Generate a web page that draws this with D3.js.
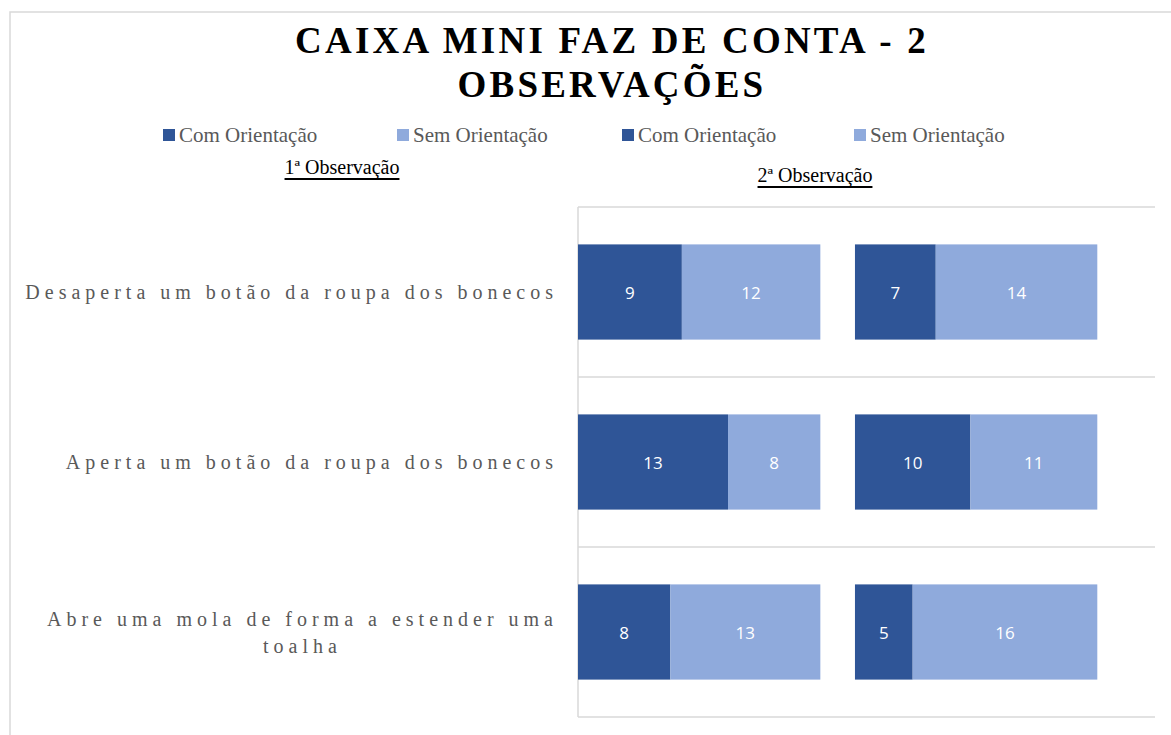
<!DOCTYPE html>
<html>
<head>
<meta charset="utf-8">
<script src="https://cdn.jsdelivr.net/npm/d3@7"></script>
<style>
  body { margin: 0; background: #fff; }
  .title { font-family: 'Liberation Serif', serif; font-weight: bold; font-size: 37px; letter-spacing: 3.2px; fill: #000; }
  .legend-text { font-family: 'Liberation Serif', serif; font-size: 21px; fill: #595959; }
  .sub-label { font-family: 'Liberation Serif', serif; font-size: 20px; fill: #000; text-decoration: underline; }
  .cat-label { font-family: 'Liberation Serif', serif; font-size: 20px; fill: #595959; letter-spacing: 5px; }
  .bar-label { font-family: 'Open Sans', sans-serif; font-size: 17px; fill: #fff; }
  .grid { stroke: #d9d9d9; stroke-width: 1.5; }
</style>
</head>
<body>
<div id="chart"></div>
<script>
const width = 1171, height = 735;
const margin = { top: 207, bottom: 18, left: 578, right: 16 };

// data
const categories = [
    'Desaperta um botão da roupa dos bonecos',
    'Aperta um botão da roupa dos bonecos',
    'Abre uma mola de forma a estender uma toalha'
];
const obs1Com = [9, 13, 8];
const obs1Sem = [12, 8, 13];
const obs2Com = [7, 10, 5];
const obs2Sem = [14, 11, 16];
const spacer = [3, 3, 3];   // hidden gap between the two observations
const seriesNames = ['Com Orientação', 'Sem Orientação', 'Com Orientação', 'Sem Orientação'];
const obsNames = ['1ª Observação', '2ª Observação'];
const xMax = 50;

const colors = { com1: '#2f5597', sem1: '#8faadc', com2: '#2f5597', sem2: '#8faadc' };

const rows = categories.map(function(c, i) {
    return { cat: c, com1: obs1Com[i], sem1: obs1Sem[i], gap: spacer[i], com2: obs2Com[i], sem2: obs2Sem[i] };
});
const keys = ['com1', 'sem1', 'gap', 'com2', 'sem2'];
const stacked = d3.stack().keys(keys)(rows);

const xScale = d3.scaleLinear().domain([0, xMax]).range([margin.left, width - margin.right]);
const yScale = d3.scaleBand().domain(categories)
    .range([margin.top, height - margin.bottom])
    .paddingInner(0.44).paddingOuter(0.22);

const svg = d3.select('#chart').append('svg')
    .attr('width', width)
    .attr('height', height);

// chart frame
svg.append('rect')
    .attr('x', 10).attr('y', 12)
    .attr('width', 1200).attr('height', 800)
    .attr('fill', 'none')
    .attr('stroke', '#d9d9d9')
    .attr('stroke-width', 1.5);

// title
const title = svg.append('text').attr('class', 'title').attr('text-anchor', 'middle');
title.append('tspan').attr('x', 612).attr('y', 53).text('CAIXA MINI FAZ DE CONTA - 2');
title.append('tspan').attr('x', 612).attr('y', 97).text('OBSERVAÇÕES');

// gridlines at the category boundaries
const half = yScale.step() * yScale.paddingInner() / 2;
const gridYs = categories.map(function(c) { return yScale(c) - half; });
gridYs.push(yScale(categories[categories.length - 1]) + yScale.bandwidth() + half);
svg.append('g').selectAll('line')
    .data(gridYs)
    .enter().append('line')
    .attr('class', 'grid')
    .attr('x1', xScale(0)).attr('x2', xScale(xMax))
    .attr('y1', function(d) { return d; })
    .attr('y2', function(d) { return d; });
svg.append('line')
    .attr('class', 'grid')
    .attr('x1', xScale(0)).attr('x2', xScale(0))
    .attr('y1', gridYs[0]).attr('y2', gridYs[gridYs.length - 1]);

// bars
const layers = svg.append('g').selectAll('g')
    .data(stacked.filter(function(s) { return s.key !== 'gap'; }))
    .enter().append('g')
    .attr('fill', function(s) { return colors[s.key]; });

layers.selectAll('rect')
    .data(function(s) { return s; })
    .enter().append('rect')
    .attr('x', function(d) { return xScale(d[0]); })
    .attr('y', function(d) { return yScale(d.data.cat); })
    .attr('width', function(d) { return xScale(d[1]) - xScale(d[0]); })
    .attr('height', yScale.bandwidth());

layers.selectAll('text')
    .data(function(s) { return s; })
    .enter().append('text')
    .attr('class', 'bar-label')
    .attr('text-anchor', 'middle')
    .attr('dominant-baseline', 'central')
    .attr('x', function(d) { return (xScale(d[0]) + xScale(d[1])) / 2; })
    .attr('y', function(d) { return yScale(d.data.cat) + yScale.bandwidth() / 2; })
    .text(function(d) { return d[1] - d[0]; });

// category labels (wrapped like excel, block right-aligned)
const labelRight = 558;
const maxLabel = 540;
const catGroup = svg.append('g');
categories.forEach(function(c) {
    const cy = yScale(c) + yScale.bandwidth() / 2;
    const t = catGroup.append('text').attr('class', 'cat-label').attr('text-anchor', 'end');
    // measure and wrap
    const words = c.split(' ');
    let lines = [], line = [];
    words.forEach(function(w) {
        line.push(w);
        t.text(line.join(' '));
        if (t.node().getComputedTextLength() > maxLabel && line.length > 1) {
            line.pop();
            lines.push(line.join(' '));
            line = [w];
        }
    });
    lines.push(line.join(' '));
    t.text(null);
    const lh = 27;
    t.text(lines[0]);
    const w0 = t.node().getComputedTextLength();
    t.text(null);
    const centre = labelRight - w0 / 2;
    lines.forEach(function(l, i) {
        t.append('tspan')
            .attr('x', i === 0 ? labelRight : centre)
            .attr('text-anchor', i === 0 ? 'end' : 'middle')
            .attr('y', cy - (lines.length - 1) * lh / 2 + i * lh)
            .attr('dominant-baseline', 'central')
            .text(l);
    });
});

// legend
const legendX = [163, 397, 622, 854];
const legendColors = [colors.com1, colors.sem1, colors.com2, colors.sem2];
const legend = svg.append('g').selectAll('g')
    .data(seriesNames)
    .enter().append('g')
    .attr('transform', function(d, i) { return 'translate(' + legendX[i] + ',135)'; });
legend.append('rect')
    .attr('x', 0).attr('y', -6)
    .attr('width', 12).attr('height', 12)
    .attr('fill', function(d, i) { return legendColors[i]; });
legend.append('text')
    .attr('class', 'legend-text')
    .attr('x', 16)
    .attr('dominant-baseline', 'central')
    .text(function(d) { return d; });

// observation sub labels
const subPos = [[342, 167], [815, 175]];
svg.append('g').selectAll('text')
    .data(obsNames)
    .enter().append('text')
    .attr('class', 'sub-label')
    .attr('text-anchor', 'middle')
    .attr('dominant-baseline', 'central')
    .attr('x', function(d, i) { return subPos[i][0]; })
    .attr('y', function(d, i) { return subPos[i][1]; })
    .attr('y', function(d, i) { return subPos[i][1]; })
    .text(function(d) { return d; });
</script>
</body>
</html>
